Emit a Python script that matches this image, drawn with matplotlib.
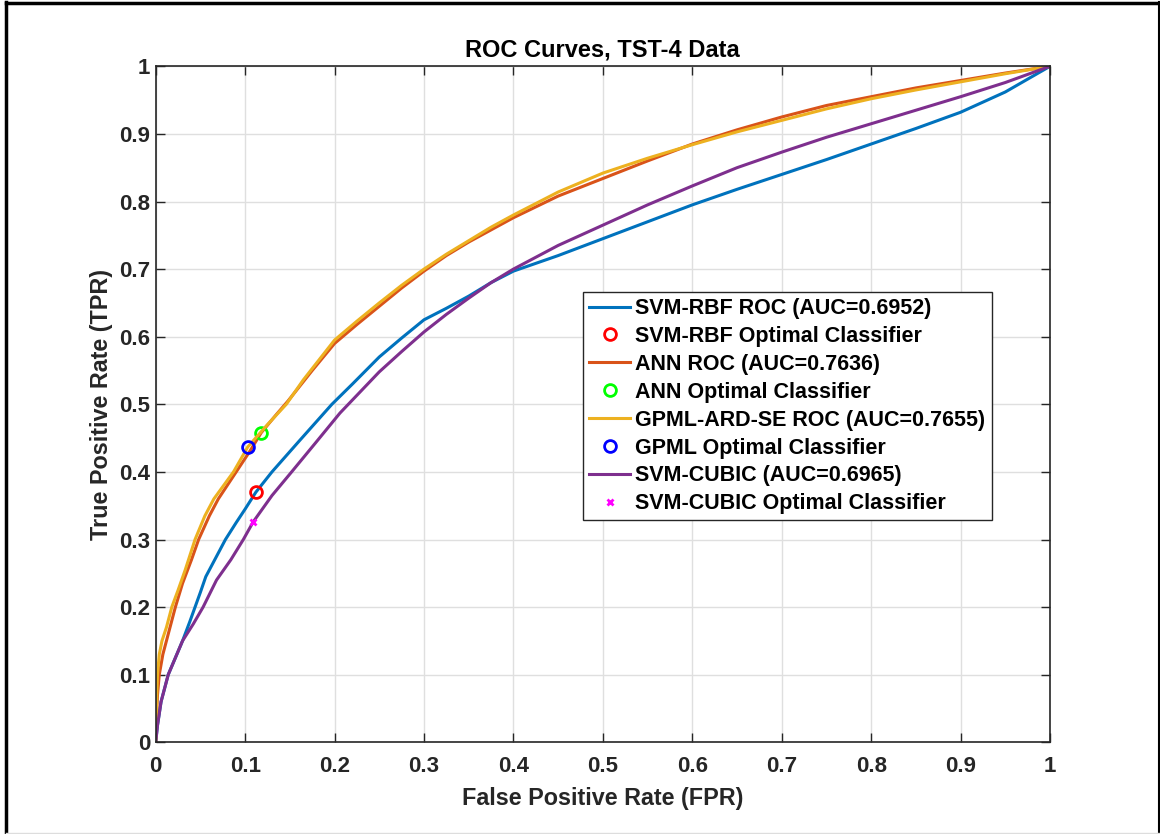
import matplotlib
matplotlib.use("Agg")
import matplotlib.pyplot as plt
from matplotlib.lines import Line2D

plt.rcParams['font.family'] = ['Liberation Sans', 'DejaVu Sans']
plt.rcParams['font.weight'] = 'bold'

# ROC curves (false positive rate, true positive rate)
rbf_fpr = [0, 0.002, 0.006, 0.014, 0.022, 0.03, 0.038, 0.044, 0.05, 0.056, 0.066, 0.078, 0.09, 0.1, 0.112,
           0.13, 0.16, 0.197, 0.22, 0.25, 0.275, 0.3, 0.325, 0.35, 0.375, 0.4, 0.45, 0.5, 0.55, 0.6, 0.65,
           0.7, 0.75, 0.8, 0.85, 0.9, 0.95, 1.0]
rbf_tpr = [0, 0.025, 0.06, 0.1, 0.125, 0.15, 0.178, 0.2, 0.222, 0.245, 0.27, 0.3, 0.325, 0.345, 0.37,
           0.4, 0.445, 0.5, 0.53, 0.57, 0.598, 0.625, 0.642, 0.66, 0.68, 0.697, 0.72, 0.745, 0.77, 0.795,
           0.818, 0.84, 0.862, 0.885, 0.908, 0.932, 0.962, 1.0]

ann_fpr = [0, 0.001, 0.002, 0.004, 0.008, 0.014, 0.022, 0.03, 0.04, 0.048, 0.06, 0.07, 0.09, 0.105,
           0.118, 0.135, 0.148, 0.175, 0.2, 0.225, 0.25, 0.275, 0.3, 0.325, 0.35, 0.375, 0.4, 0.45, 0.5,
           0.55, 0.6, 0.65, 0.7, 0.75, 0.8, 0.85, 0.9, 0.95, 1.0]
ann_tpr = [0, 0.04, 0.07, 0.1, 0.13, 0.16, 0.2, 0.235, 0.27, 0.3, 0.335, 0.36, 0.4, 0.43,
           0.458, 0.485, 0.505, 0.55, 0.59, 0.618, 0.645, 0.672, 0.697, 0.72, 0.74, 0.758, 0.776, 0.808,
           0.834, 0.86, 0.885, 0.906, 0.925, 0.942, 0.955, 0.968, 0.979, 0.99, 1.0]

gp_fpr = [0, 0.001, 0.002, 0.004, 0.007, 0.012, 0.018, 0.025, 0.033, 0.044, 0.055, 0.065, 0.087, 0.103,
          0.125, 0.146, 0.165, 0.2, 0.225, 0.25, 0.275, 0.3, 0.325, 0.35, 0.375, 0.4, 0.45, 0.5, 0.55,
          0.6, 0.65, 0.7, 0.75, 0.8, 0.85, 0.9, 0.95, 1.0]
gp_tpr = [0, 0.06, 0.1, 0.13, 0.15, 0.17, 0.2, 0.225, 0.255, 0.3, 0.335, 0.36, 0.4, 0.437,
          0.47, 0.5, 0.536, 0.595, 0.623, 0.65, 0.676, 0.7, 0.722, 0.742, 0.762, 0.78, 0.814, 0.842,
          0.864, 0.884, 0.903, 0.92, 0.937, 0.952, 0.965, 0.977, 0.989, 1.0]

cubic_fpr = [0, 0.002, 0.006, 0.014, 0.022, 0.03, 0.042, 0.053, 0.068, 0.084, 0.098, 0.109, 0.13, 0.152,
             0.18, 0.206, 0.25, 0.275, 0.3, 0.325, 0.35, 0.375, 0.4, 0.45, 0.5, 0.55, 0.6, 0.65, 0.7,
             0.75, 0.8, 0.85, 0.9, 0.95, 1.0]
cubic_tpr = [0, 0.025, 0.06, 0.1, 0.125, 0.15, 0.175, 0.2, 0.24, 0.27, 0.3, 0.326, 0.365, 0.4,
             0.445, 0.487, 0.548, 0.578, 0.607, 0.633, 0.657, 0.68, 0.7, 0.735, 0.765, 0.795, 0.823,
             0.85, 0.873, 0.895, 0.915, 0.935, 0.955, 0.976, 1.0]

# Optimal operating points (fpr, tpr)
rbf_opt = (0.112, 0.370)
ann_opt = (0.118, 0.458)
gp_opt = (0.103, 0.437)
cubic_opt = (0.109, 0.326)

labels = ['SVM-RBF ROC (AUC=0.6952)', 'SVM-RBF Optimal Classifier',
          'ANN ROC (AUC=0.7636)', 'ANN Optimal Classifier',
          'GPML-ARD-SE ROC (AUC=0.7655)', 'GPML Optimal Classifier',
          'SVM-CUBIC (AUC=0.6965)', 'SVM-CUBIC Optimal Classifier']
ticks = [0, 0.1, 0.2, 0.3, 0.4, 0.5, 0.6, 0.7, 0.8, 0.9, 1]
tick_labels = ['0', '0.1', '0.2', '0.3', '0.4', '0.5', '0.6', '0.7', '0.8', '0.9', '1']

c_blue, c_orange, c_yellow, c_purple = '#0072BD', '#D95319', '#EDB120', '#7E2F8E'

fig = plt.figure(figsize=(11.6, 8.34), dpi=100)
W, H = 1160, 834
ax = fig.add_axes([155.7 / W, 1 - 742.3 / H, (1050 - 155.7) / W, (742.3 - 66.3) / H])

lw = 2.2
ms = 8.5
ax.plot(rbf_fpr, rbf_tpr, color=c_blue, lw=lw, label=labels[0])
ax.plot(*rbf_opt, 'o', mfc='none', mec='#FF0000', mew=2, ms=ms, label=labels[1])
ax.plot(ann_fpr, ann_tpr, color=c_orange, lw=lw, label=labels[2])
ax.plot(*ann_opt, 'o', mfc='none', mec='#00FF00', mew=2, ms=ms, label=labels[3])
ax.plot(gp_fpr, gp_tpr, color=c_yellow, lw=lw, label=labels[4])
ax.plot(*gp_opt, 'o', mfc='none', mec='#0000FF', mew=2, ms=ms, label=labels[5])
ax.plot(cubic_fpr, cubic_tpr, color=c_purple, lw=lw, label=labels[6])
ax.plot(*cubic_opt, 'x', color='#FF00FF', mew=2, ms=5, label=labels[7])

ax.set_xlim(0, 1)
ax.set_ylim(0, 1)
ax.set_xticks(ticks)
ax.set_xticklabels(tick_labels)
ax.set_yticks(ticks)
ax.set_yticklabels(tick_labels)
ax.tick_params(direction='in', length=6.5, width=1, top=True, right=True,
               labelsize=16, colors='#262626')
ax.tick_params(axis='x', pad=10)
ax.tick_params(axis='y', pad=4)
for lab in ax.get_xticklabels() + ax.get_yticklabels():
    lab.set_fontweight('bold')
ax.grid(True, color='#DFDFDF', lw=1)
ax.set_axisbelow(True)
for sp in ax.spines.values():
    sp.set_color('#262626')
    sp.set_linewidth(1.2)

ax.set_title('ROC Curves, TST-4 Data', fontsize=17, fontweight='bold', pad=7)
ax.set_xlabel('False Positive Rate (FPR)', fontsize=16.8, fontweight='bold', color='#262626', labelpad=7)
ax.set_ylabel('True Positive Rate (TPR)', fontsize=16.8, fontweight='bold', color='#262626', labelpad=4)

leg = ax.legend(loc='upper left', bbox_to_anchor=(0.478, 0.666),
                prop={'weight': 'bold', 'size': 15.5}, frameon=True, fancybox=False,
                edgecolor='#262626', framealpha=1, handlelength=1.9, handletextpad=0.25,
                labelspacing=0.32, borderpad=0.28, borderaxespad=0, numpoints=1)
leg.get_frame().set_linewidth(1)

# Figure frame
fig.add_artist(Line2D([6 / W, 6 / W], [0, 1 - 2 / H], color='black', lw=2.5))
fig.add_artist(Line2D([6 / W, 1], [1 - 3 / H, 1 - 3 / H], color='black', lw=2.5))
fig.add_artist(Line2D([1159 / W, 1159 / W], [0, 1 - 2 / H], color='black', lw=1.5))
fig.add_artist(Line2D([6 / W, 1], [1 / H, 1 / H], color='#DDDDDD', lw=1))

fig.savefig('out.png', dpi=100)
